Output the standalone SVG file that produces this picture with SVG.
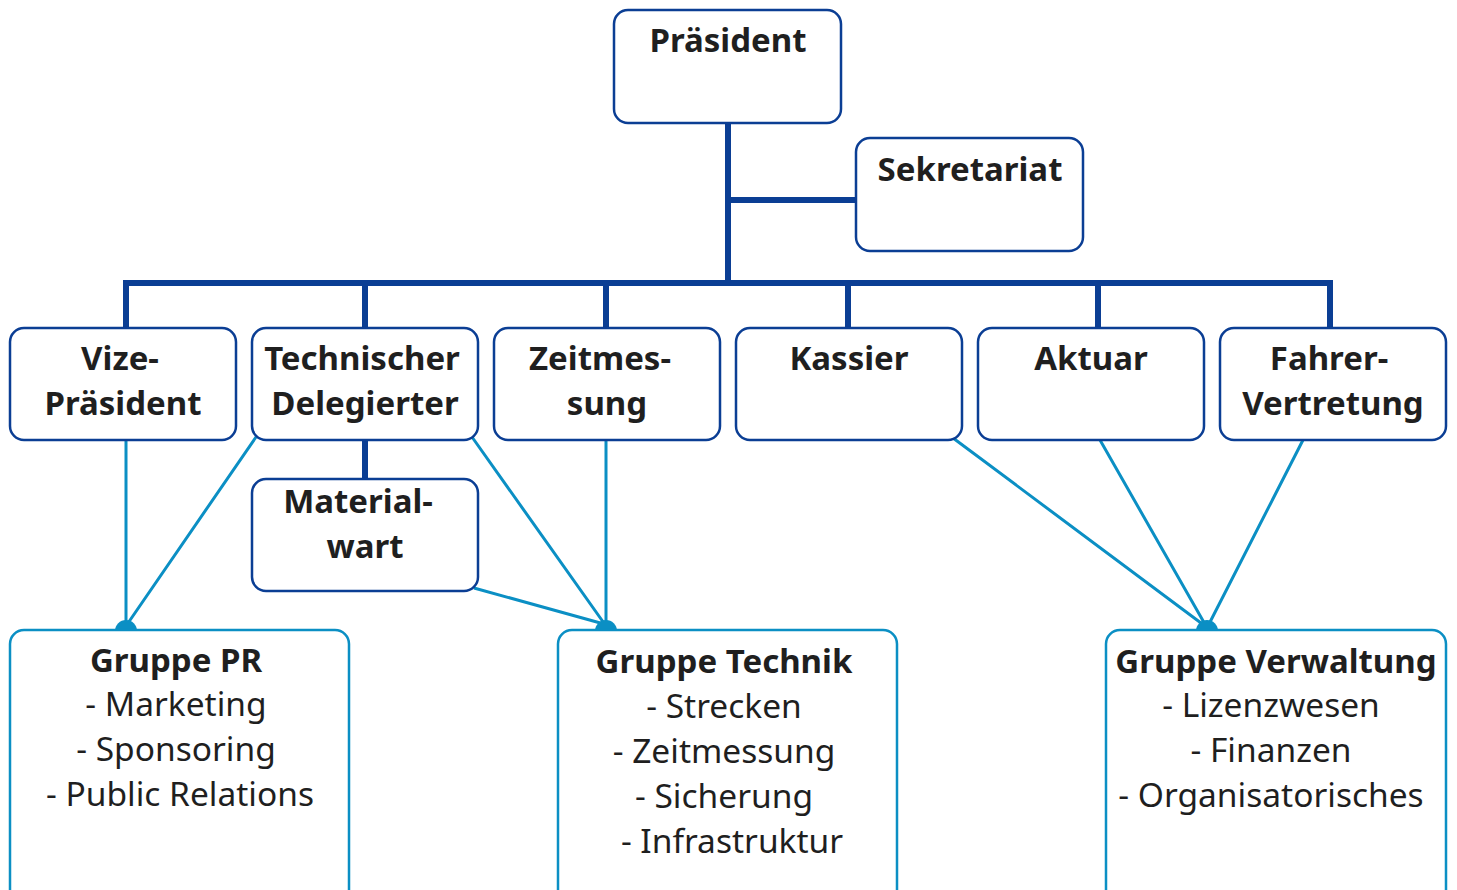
<svg xmlns="http://www.w3.org/2000/svg" width="1457" height="890" viewBox="0 0 1457 890">
<style>
.n{fill:#fff;stroke:#0b3e94;stroke-width:2.5}
.g{fill:#fff;stroke:#0b8fc4;stroke-width:2.5}
.t{font-family:"Noto Sans","Liberation Sans",sans-serif;font-size:33.5px;fill:#1f1f1f;text-anchor:middle}
.b{font-weight:bold;font-size:33px}
.trunk{stroke:#0b3e94;stroke-width:6;fill:none}
.lk{stroke:#0b8fc4;stroke-width:3;fill:none}
.dot{fill:#0b8fc4}
</style>
<rect width="1457" height="890" fill="#fff"/>
<g id="connectors">
<path class="trunk" d="M728,123V283M728,200H856M126,283H1330M126,280V328M365,280V328M606,280V328M848,280V328M1098,280V328M1330,280V328M365,440V479"/>
<path class="lk" d="M126,440V628M256,437L126,626M472,437L606,626M606,440V628M474,588L604,624M953,438L1205,626M1100,440L1206,626M1303,440L1208,626"/>
<circle class="dot" cx="126" cy="631" r="11"/>
<circle class="dot" cx="606" cy="631" r="11"/>
<circle class="dot" cx="1207" cy="631" r="11"/>
</g>
<g id="praesident"><rect class="n" x="614" y="10" width="227" height="113" rx="14"/><text class="t b" x="728" y="52">Präsident</text></g>
<g id="sekretariat"><rect class="n" x="856" y="138" width="227" height="113" rx="14"/><text class="t b" x="970" y="181">Sekretariat</text></g>
<g id="vize"><rect class="n" x="10" y="328" width="226" height="112" rx="14"/><text class="t b" x="120" y="370">Vize-</text><text class="t b" x="123" y="415">Präsident</text></g>
<g id="techdel"><rect class="n" x="252" y="328" width="226" height="112" rx="14"/><text class="t b" x="362" y="370">Technischer</text><text class="t b" x="365" y="415">Delegierter</text></g>
<g id="zeitmessung"><rect class="n" x="494" y="328" width="226" height="112" rx="14"/><text class="t b" x="600" y="370">Zeitmes-</text><text class="t b" x="607" y="415">sung</text></g>
<g id="kassier"><rect class="n" x="736" y="328" width="226" height="112" rx="14"/><text class="t b" x="849" y="370">Kassier</text></g>
<g id="aktuar"><rect class="n" x="978" y="328" width="226" height="112" rx="14"/><text class="t b" x="1091" y="370">Aktuar</text></g>
<g id="fahrer"><rect class="n" x="1220" y="328" width="226" height="112" rx="14"/><text class="t b" x="1329" y="370">Fahrer-</text><text class="t b" x="1333" y="415">Vertretung</text></g>
<g id="materialwart"><rect class="n" x="252" y="479" width="226" height="112" rx="14"/><text class="t b" x="358" y="513">Material-</text><text class="t b" x="365" y="558">wart</text></g>
<g id="gruppe-pr"><rect class="g" x="10" y="630" width="339" height="280" rx="14"/><text class="t b" x="176" y="672">Gruppe PR</text><text class="t" x="176" y="716">- Marketing</text><text class="t" x="176" y="761">- Sponsoring</text><text class="t" x="180" y="806">- Public Relations</text></g>
<g id="gruppe-technik"><rect class="g" x="558" y="630" width="339" height="280" rx="14"/><text class="t b" x="724" y="673">Gruppe Technik</text><text class="t" x="724" y="718">- Strecken</text><text class="t" x="724" y="763">- Zeitmessung</text><text class="t" x="724" y="808">- Sicherung</text><text class="t" x="732" y="853">- Infrastruktur</text></g>
<g id="gruppe-verwaltung"><rect class="g" x="1106" y="630" width="340" height="280" rx="14"/><text class="t b" x="1276" y="673">Gruppe Verwaltung</text><text class="t" x="1271" y="717">- Lizenzwesen</text><text class="t" x="1271" y="762">- Finanzen</text><text class="t" x="1271" y="807">- Organisatorisches</text></g>
</svg>
